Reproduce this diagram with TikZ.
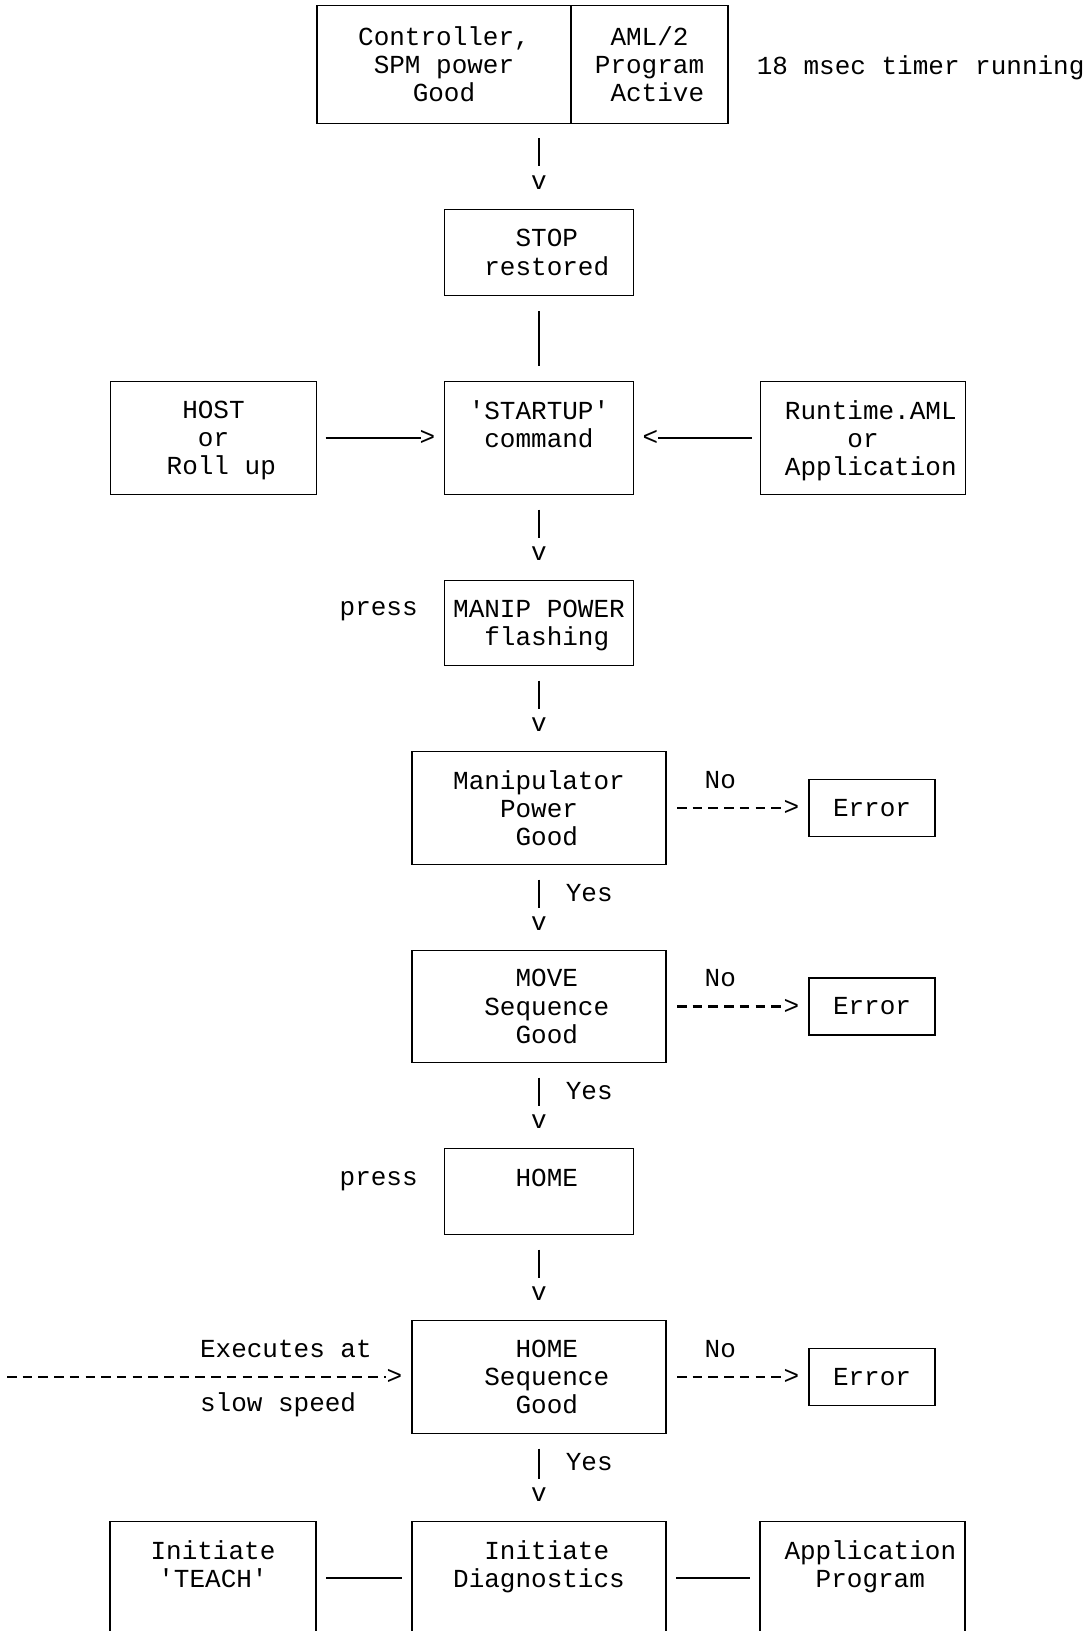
\documentclass[tikz,border=0pt]{standalone}
\usepackage{fontspec}
\setmonofont{Liberation Mono}
\usetikzlibrary{positioning}
\newcommand\nodp[1]{\raisebox{0pt}[\height][0pt]{#1}}
\tikzset{
  every picture/.style={font=\ttfamily\fontsize{13}{14.05}\selectfont, line width=0.8pt},
  box/.style={draw, align=center, outer sep=0pt, minimum width=#1},
  box/.default=94.5pt,
  short/.style={minimum height=43pt},
  tall/.style={minimum height=56.5pt},
  errbox/.style={box=63pt, minimum height=28.5pt},
  drop/.style={shorten <=7.5pt, shorten >=21.5pt,
    to path={-- (\tikztotarget) node[at end, yshift=13.5pt] {v} \tikztonodes}},
  joint/.style={shorten <=8pt, shorten >=8pt},
  feed/.style={shorten <=4.5pt, shorten >=12pt,
    to path={-- (\tikztotarget) node[at end, xshift=-8.5pt] {>} \tikztonodes}},
  feedl/.style={shorten <=4.5pt, shorten >=12pt,
    to path={-- (\tikztotarget) node[at end, xshift=8.5pt] {<} \tikztonodes}},
  fail/.style={line width=1.2pt, dash pattern=on 4.75pt off 3.1pt, shorten <=5.5pt, shorten >=13pt,
    to path={-- (\tikztotarget) node[at end, xshift=-8.75pt] {>} \tikztonodes}},
}
\begin{document}
\begin{tikzpicture}[node distance=43pt, every node/.append style={inner sep=0pt}]
  \useasboundingbox (0,0) rectangle (545.5pt,-815.5pt);
  % top of the chain
  \node[box, short] (stop) at (269.5pt,-126.25pt) {~STOP\\~restored};
  \node[box=127pt, minimum height=59pt, above=43pt of stop, xshift=-47.5pt] (ctrl) {Controller,\\SPM power\\Good};
  \node[box=78.5pt, minimum height=59pt, right=0pt of ctrl] (prog) {AML/2\\Program\\~Active};
  \node[right=14pt of prog, yshift=-1.5pt] (timer) {18 msec timer running};
  % startup row
  \node[box, tall, below=of stop] (startup) {\textquotesingle STARTUP\textquotesingle\\command\\~};
  \node[box=103pt, tall, left=64pt of startup] (host) {HOST\\or\\\nodp{~Roll up}};
  \node[box=102.5pt, tall, right=63.5pt of startup] (runtime) {~Runtime.AML\\or\\\nodp{~Application}};
  % checks
  \node[box, minimum height=42.5pt, below=of startup] (manip) {MANIP POWER\\\nodp{~flashing}};
  \node[left=13pt of manip, yshift=6pt] (press1) {press};
  \node[box=127pt, tall, below=of manip] (power) {Manipulator\\Power\\~Good};
  \node[errbox, right=71.5pt of power] (err1) {Error};
  \node[box=127pt, minimum height=56pt, below=of power] (move) {~MOVE\\~Sequence\\~Good};
  \node[errbox, right=71.5pt of move] (err2) {Error};
  \node[box, short, below=of move] (home) {~HOME\\~};
  \node[left=13pt of home, yshift=5pt] (press2) {press};
  \node[box=127pt, tall, below=of home] (homeseq) {~HOME\\~Sequence\\~Good};
  \node[errbox, right=71.5pt of homeseq] (err3) {Error};
  \coordinate[left=206.5pt of homeseq.west] (slow);
  % bottom row
  \node[box=127pt, tall, below=44pt of homeseq] (diag) {~Initiate\\Diagnostics\\~};
  \node[box=103pt, tall, left=48pt of diag] (teach) {Initiate\\\textquotesingle TEACH\textquotesingle\\~};
  \node[box=102.5pt, tall, right=47pt of diag] (app) {~Application\\~Program\\~};

  \draw[drop] (ctrl.south -| stop.north) to (stop);
  \draw[joint] (stop) -- (startup);
  \draw[feed] (host) to (startup);
  \draw[feedl] (runtime) to (startup);
  \draw[drop] (startup) to (manip);
  \draw[drop] (manip) to (power);
  \draw[drop] (power) to node[pos=0.33, anchor=west, xshift=13pt] {Yes} (move);
  \draw[drop] (move) to node[pos=0.33, anchor=west, xshift=13pt] {Yes} (home);
  \draw[drop] (home) to (homeseq);
  \draw[drop] (homeseq) to node[pos=0.33, anchor=west, xshift=13pt] {Yes} (diag);
  \draw[fail] (power) to node[pos=0.38, yshift=14pt] {No} (err1);
  \draw[fail] (move) to node[pos=0.38, yshift=14pt] {No} (err2);
  \draw[fail] (homeseq) to node[pos=0.38, yshift=14pt] {No} (err3);
  \draw[fail, shorten <=4pt] (slow) to node[pos=0.484, anchor=west, yshift=14pt] {Executes at}
    node[pos=0.484, anchor=west, yshift=-14pt] {slow speed} (homeseq);
  \draw[joint, shorten <=5pt, shorten >=5pt] (teach) -- (diag);
  \draw[joint, shorten <=5pt, shorten >=5pt] (diag) -- (app);
\end{tikzpicture}
\end{document}
